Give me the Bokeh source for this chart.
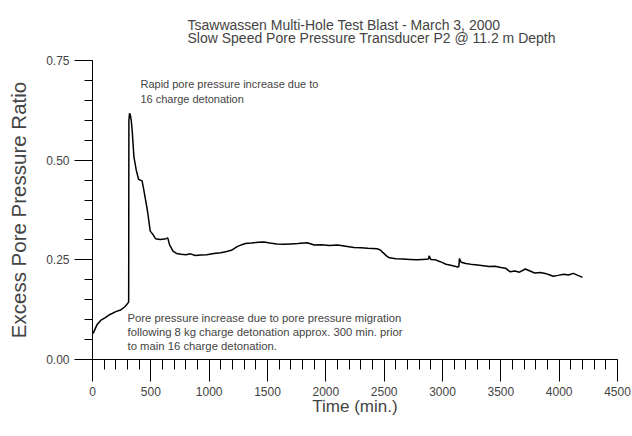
from bokeh.plotting import figure
from bokeh.models import Range1d, FixedTicker, NumeralTickFormatter, Label, Title
from bokeh.embed import file_html
from bokeh.resources import INLINE

# ---- data ----
time_min = [0, 10, 20, 40, 70, 110, 150, 200, 240, 280, 305, 310, 312, 318, 325, 332,
            340, 355, 375, 395, 410, 425, 440, 470, 495, 515, 540, 580, 620, 645,
            660, 690, 720, 760, 800, 840, 880, 930, 980, 1040, 1100, 1150, 1190,
            1240, 1280, 1310, 1360, 1420, 1470, 1520, 1580, 1640, 1700, 1760, 1840,
            1900, 1960, 2030, 2100, 2170, 2240, 2300, 2360, 2440, 2470, 2490, 2520,
            2545, 2600, 2660, 2720, 2780, 2830, 2880, 2885, 2900, 2940, 2975, 3000,
            3030, 3080, 3130, 3140, 3145, 3160, 3200, 3260, 3300, 3350, 3400, 3450,
            3500, 3540, 3580, 3620, 3660, 3710, 3750, 3790, 3840, 3880, 3920, 3950,
            3990, 4040, 4080, 4120, 4160, 4200]
pp_ratio = [0.065, 0.068, 0.075, 0.088, 0.098, 0.105, 0.113, 0.120, 0.124, 0.133,
            0.142, 0.145, 0.600, 0.618, 0.612, 0.600, 0.575, 0.508, 0.475, 0.452,
            0.450, 0.448, 0.425, 0.375, 0.322, 0.315, 0.303, 0.301, 0.302, 0.305,
            0.288, 0.272, 0.266, 0.264, 0.263, 0.265, 0.261, 0.262, 0.263, 0.266,
            0.268, 0.271, 0.274, 0.283, 0.288, 0.291, 0.292, 0.294, 0.295, 0.292,
            0.290, 0.289, 0.290, 0.291, 0.293, 0.287, 0.288, 0.286, 0.287, 0.284,
            0.281, 0.280, 0.279, 0.278, 0.274, 0.268, 0.260, 0.255, 0.253, 0.252,
            0.251, 0.250, 0.251, 0.252, 0.260, 0.251, 0.250, 0.246, 0.243, 0.239,
            0.236, 0.232, 0.233, 0.253, 0.244, 0.241, 0.238, 0.237, 0.235, 0.233,
            0.234, 0.231, 0.229, 0.220, 0.222, 0.219, 0.227, 0.222, 0.217, 0.218,
            0.216, 0.212, 0.209, 0.211, 0.214, 0.212, 0.216, 0.211, 0.206]

x_major_ticks = list(range(0, 4501, 500))
x_minor_ticks = list(range(0, 4501, 100))
y_major_ticks = [0.0, 0.25, 0.50, 0.75]
y_minor_ticks = [round(0.05 * i, 2) for i in range(16)]

title_lines = ["Tsawwassen Multi-Hole Test Blast - March 3, 2000",
               "Slow Speed Pore Pressure Transducer P2 @ 11.2 m Depth"]
note_peak = "Rapid pore pressure increase due to\n16 charge detonation"
note_pre = ("Pore pressure increase due to pore pressure migration\n"
            "following 8 kg charge detonation approx. 300 min. prior\n"
            "to main 16 charge detonation.")

FONT = "Liberation Sans"

p = figure(width=632, height=436, output_backend="svg", toolbar_location=None,
           x_range=Range1d(0, 4500), y_range=Range1d(0, 0.75),
           min_border_left=92, min_border_right=15, min_border_top=60,
           min_border_bottom=77, title=None)
p.outline_line_color = None
p.xgrid.visible = False
p.ygrid.visible = False
p.background_fill_color = "white"
p.border_fill_color = "white"

p.line(time_min, pp_ratio, line_color="black", line_width=1.5)

# axes
xa = p.xaxis[0]
xa.ticker = FixedTicker(ticks=x_major_ticks, minor_ticks=x_minor_ticks)
xa.axis_label = "Time (min.)"
xa.axis_label_text_font = FONT
xa.axis_label_text_font_size = "17px"
xa.axis_label_text_font_style = "normal"
xa.axis_label_standoff = -2
xa.major_label_text_font = FONT
xa.major_label_text_font_size = "12px"
xa.major_label_standoff = 5
xa.major_tick_out = 22
xa.major_tick_in = 0
xa.minor_tick_out = 10
xa.minor_tick_in = 0
xa.axis_line_color = "black"

ya = p.yaxis[0]
ya.ticker = FixedTicker(ticks=y_major_ticks, minor_ticks=y_minor_ticks)
ya.formatter = NumeralTickFormatter(format="0.00")
ya.axis_label = "Excess Pore Pressure Ratio"
ya.axis_label_text_font = FONT
ya.axis_label_text_font_size = "20.5px"
ya.axis_label_text_font_style = "normal"
ya.axis_label_standoff = 13
ya.major_label_text_font = FONT
ya.major_label_text_font_size = "12px"
ya.major_label_standoff = 5
ya.major_tick_out = 18
ya.major_tick_in = 0
ya.minor_tick_out = 8
ya.minor_tick_in = 0
ya.axis_line_color = "black"

# title (two lines, left aligned)
p.add_layout(Title(text="\n".join(title_lines), align="left", offset=95,
                   standoff=29, text_font=FONT, text_font_size="14px",
                   text_line_height=0.84, text_font_style="normal"), "above")

# annotations
p.add_layout(Label(x=411, y=0.705, text=note_peak, text_font=FONT,
                   text_font_size="11px", text_baseline="top",
                   text_line_height=1.25))
p.add_layout(Label(x=300, y=0.118, text=note_pre, text_font=FONT,
                   text_font_size="11.3px", text_baseline="top",
                   text_line_height=1.15))

open("out.html", "w").write(file_html(p, INLINE))
